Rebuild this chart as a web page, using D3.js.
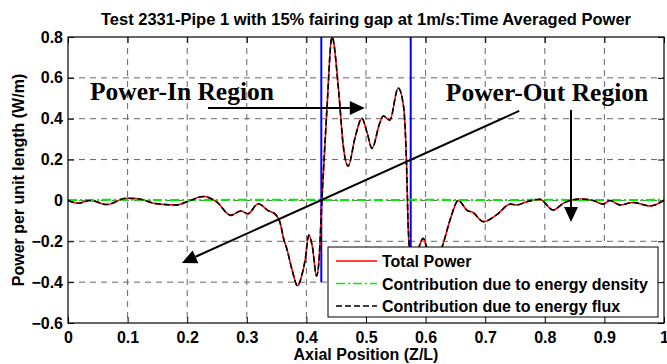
<!DOCTYPE html>
<html>
<head>
<meta charset="utf-8">
<script src="https://cdn.jsdelivr.net/npm/d3@7"></script>
<style>
  body { margin: 0; background: #fff; }
  text { font-family: "Liberation Sans", Arial, sans-serif; font-weight: bold; }
  .note { font-family: "Liberation Serif", "Times New Roman", serif; font-weight: bold; }
</style>
</head>
<body>
<div class="container"></div>
<script>
// Axial position (Z/L) samples of the total power curve
const positions = [0.000, 0.017, 0.037, 0.065, 0.098, 0.115, 0.149, 0.182, 0.205, 0.227,
  0.249, 0.273, 0.290, 0.302, 0.319, 0.336, 0.348, 0.356, 0.362, 0.367,
  0.376, 0.385, 0.392, 0.398, 0.404, 0.410, 0.417, 0.421, 0.426, 0.434,
  0.443, 0.454, 0.462, 0.470, 0.482, 0.493, 0.502, 0.510, 0.523, 0.529,
  0.540, 0.554, 0.563, 0.568, 0.571, 0.576, 0.585, 0.596, 0.603, 0.615,
  0.628, 0.641, 0.655, 0.669, 0.680, 0.697, 0.719, 0.742, 0.753, 0.770,
  0.792, 0.814, 0.831, 0.859, 0.881, 0.898, 0.909, 0.926, 0.948, 0.977, 1.000];

// Total power (W/m) - the energy flux contribution lies right on top of it
const totalPower = [0.000, -0.014, 0.000, -0.020, 0.011, 0.009, -0.016, -0.022, 0.000, 0.019,
  -0.006, -0.073, -0.052, -0.065, -0.016, -0.050, -0.068, -0.110, -0.190, -0.235,
  -0.340, -0.418, -0.370, -0.290, -0.170, -0.226, -0.370, -0.300, 0.000, 0.425,
  0.800, 0.540, 0.263, 0.168, 0.312, 0.402, 0.330, 0.255, 0.378, 0.413,
  0.393, 0.550, 0.460, 0.180, -0.145, -0.300, -0.260, -0.185, -0.240, -0.300,
  -0.225, -0.096, 0.000, -0.047, -0.060, -0.104, -0.071, -0.018, -0.022, -0.006,
  0.005, -0.047, -0.014, 0.007, 0.000, -0.018, 0.000, -0.022, -0.010, -0.027, 0.000];

// Energy density contribution (nearly zero everywhere)
const densityPositions = [0, 0.1, 0.2, 0.3, 0.4, 0.5, 0.6, 0.7, 0.8, 0.9, 1];
const densityPower = [0.002, 0.003, 0.002, 0.003, 0.003, 0.002, 0.003, 0.002, 0.003, 0.002, 0.003];

// Region boundaries (blue lines)
const regionBounds = [0.425, 0.575];
const regionSpan = [-0.4, 0.8];

const xTicks = [0, 0.1, 0.2, 0.3, 0.4, 0.5, 0.6, 0.7, 0.8, 0.9, 1];
const yTicks = [-0.6, -0.4, -0.2, 0, 0.2, 0.4, 0.6, 0.8];

const legendLabels = ["Total Power", "Contribution due to energy density", "Contribution due to energy flux"];

const width = 667, height = 364;
const margin = { top: 37, right: 3, bottom: 41, left: 68 };

const x = d3.scaleLinear().domain([0, 1]).range([margin.left, width - margin.right]);
const y = d3.scaleLinear().domain([-0.6, 0.8]).range([height - margin.bottom, margin.top]);

const svg = d3.select(".container")
  .append("svg")
  .attr("width", width)
  .attr("height", height);

svg.append("defs").append("clipPath").attr("id", "plot")
  .append("rect")
  .attr("x", x(0)).attr("y", y(0.8))
  .attr("width", x(1) - x(0)).attr("height", y(-0.6) - y(0.8));

// grid
svg.append("g").selectAll("line").data(xTicks.slice(1, -1)).enter().append("line")
  .attr("x1", d => x(d)).attr("x2", d => x(d))
  .attr("y1", y(0.8)).attr("y2", y(-0.6))
  .attr("stroke", "#666").attr("stroke-dasharray", "6,5");
svg.append("g").selectAll("line").data(yTicks.slice(1, -1)).enter().append("line")
  .attr("y1", d => y(d)).attr("y2", d => y(d))
  .attr("x1", x(0)).attr("x2", x(1))
  .attr("stroke", "#666").attr("stroke-dasharray", "6,5");

// axes
svg.append("g")
  .attr("transform", `translate(0,${y(-0.6)})`)
  .call(d3.axisBottom(x).tickValues(xTicks).tickSize(-6).tickPadding(9).tickFormat(d3.format("")))
  .call(g => g.select(".domain").remove());
svg.append("g")
  .attr("transform", `translate(${x(0)},0)`)
  .call(d3.axisLeft(y).tickValues(yTicks).tickSize(-6).tickPadding(5).tickFormat(d3.format("")))
  .call(g => g.select(".domain").remove());
svg.append("g")
  .attr("transform", `translate(0,${y(0.8)})`)
  .call(d3.axisTop(x).tickValues(xTicks).tickSize(-6).tickFormat(""))
  .call(g => g.select(".domain").remove());
svg.append("g")
  .attr("transform", `translate(${x(1)},0)`)
  .call(d3.axisRight(y).tickValues(yTicks).tickSize(-6).tickFormat(""))
  .call(g => g.select(".domain").remove());
svg.selectAll(".tick text").attr("font-size", 16).attr("fill", "#000")
  .attr("font-family", "Liberation Sans, Arial, sans-serif").attr("font-weight", "bold");
svg.selectAll(".tick line").attr("stroke", "#000");

// blue region boundaries
svg.append("g").selectAll("line").data(regionBounds).enter().append("line")
  .attr("x1", d => x(d)).attr("x2", d => x(d))
  .attr("y1", y(regionSpan[0])).attr("y2", y(regionSpan[1]))
  .attr("stroke", "#0000ff").attr("stroke-width", 2);

const curve = svg.append("g").attr("clip-path", "url(#plot)");
const line = d3.line().x(d => x(d[0])).y(d => y(d[1])).curve(d3.curveMonotoneX);
const totalData = positions.map((p, i) => [p, totalPower[i]]);
const densityData = densityPositions.map((p, i) => [p, densityPower[i]]);

curve.append("path").datum(totalData).attr("d", line)
  .attr("fill", "none").attr("stroke", "#ff0000").attr("stroke-width", 1.6);
curve.append("path").datum(densityData).attr("d", line)
  .attr("fill", "none").attr("stroke", "#00ee00").attr("stroke-width", 2)
  .attr("stroke-dasharray", "9,3,2,3");
curve.append("path").datum(totalData).attr("d", line)
  .attr("fill", "none").attr("stroke", "#000").attr("stroke-width", 1.6)
  .attr("stroke-dasharray", "6,3");

// box
svg.append("rect")
  .attr("x", x(0)).attr("y", y(0.8))
  .attr("width", x(1) - x(0)).attr("height", y(-0.6) - y(0.8))
  .attr("fill", "none").attr("stroke", "#000").attr("stroke-width", 1.2);

// annotation arrows (data units)
function arrow(x1, y1, x2, y2) {
  const p1 = [x(x1), y(y1)], p2 = [x(x2), y(y2)];
  const a = Math.atan2(p2[1] - p1[1], p2[0] - p1[0]);
  const len = 15, hw = 7;
  const bx = p2[0] - len * Math.cos(a), by = p2[1] - len * Math.sin(a);
  svg.append("line")
    .attr("x1", p1[0]).attr("y1", p1[1]).attr("x2", bx).attr("y2", by)
    .attr("stroke", "#000").attr("stroke-width", 2);
  const head = [
    p2,
    [bx + hw * Math.sin(a), by - hw * Math.cos(a)],
    [bx - hw * Math.sin(a), by + hw * Math.cos(a)]
  ];
  svg.append("path").attr("d", "M" + head.join("L") + "Z").attr("fill", "#000");
}
arrow(0.235, 0.4525, 0.498, 0.4525);
arrow(0.757, 0.438, 0.191, -0.306);
arrow(0.844, 0.443, 0.844, -0.106);

svg.append("text").attr("class", "note")
  .attr("x", x(0.037)).attr("y", y(0.492))
  .attr("font-size", 25.5).text("Power-In Region");
svg.append("text").attr("class", "note")
  .attr("x", x(0.634)).attr("y", y(0.487))
  .attr("font-size", 25.5).text("Power-Out Region");

// legend
const legend = svg.append("g").attr("transform", "translate(328,247)");
legend.append("rect").attr("width", 330).attr("height", 70)
  .attr("fill", "#fff").attr("stroke", "#000").attr("stroke-width", 1);
const styles = [
  { stroke: "#ff0000", dash: null },
  { stroke: "#00ee00", dash: "9,3,2,3" },
  { stroke: "#000", dash: "6,3" }
];
legendLabels.forEach((label, i) => {
  const cy = 14 + i * 22.5;
  legend.append("line")
    .attr("x1", 8).attr("x2", 49).attr("y1", cy).attr("y2", cy)
    .attr("stroke", styles[i].stroke).attr("stroke-width", 1.6)
    .attr("stroke-dasharray", styles[i].dash);
  legend.append("text").attr("x", 54).attr("y", cy + 6)
    .attr("font-size", 16).text(label);
});

// titles
svg.append("text").attr("x", (x(0) + x(1)) / 2).attr("y", 25)
  .attr("text-anchor", "middle").attr("font-size", 16.5)
  .text("Test 2331-Pipe 1 with 15% fairing gap at 1m/s:Time Averaged Power");
svg.append("text").attr("x", (x(0) + x(1)) / 2).attr("y", 360)
  .attr("text-anchor", "middle").attr("font-size", 16)
  .text("Axial Position (Z/L)");
svg.append("text")
  .attr("transform", `translate(24,${(y(0.8) + y(-0.6)) / 2}) rotate(-90)`)
  .attr("text-anchor", "middle").attr("font-size", 16)
  .text("Power per unit length (W/m)");
</script>
</body>
</html>
